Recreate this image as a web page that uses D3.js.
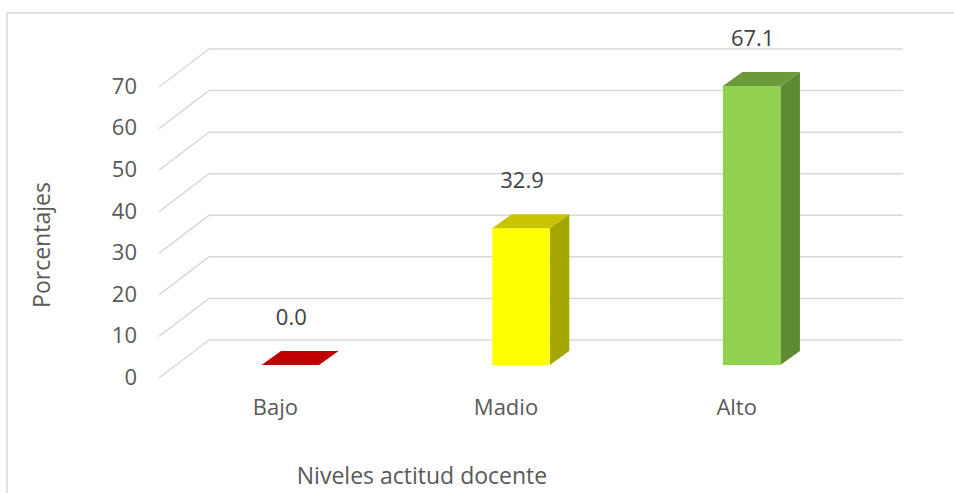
<!DOCTYPE html>
<html><head><meta charset="utf-8">
<script src="https://cdn.jsdelivr.net/npm/d3@7"></script>
<style>html,body{margin:0;padding:0;background:#fff;overflow:hidden}svg{display:block}</style>
</head><body>
<svg id="c" width="954" height="493"></svg>
<script>
const categories = ["Bajo", "Madio", "Alto"];
const values = [0.0, 32.9, 67.1];
const valueLabels = ["0.0", "32.9", "67.1"];
const tickValues = [0, 10, 20, 30, 40, 50, 60, 70];
const frontColors = ["#c00000", "#ffff00", "#92d050"];
const topColors = ["#c00000", "#c8c400", "#6b9a3a"];
const sideColors = ["#a00000", "#a6a600", "#5e8a32"];
const yTitle = "Porcentajes";
const xTitle = "Niveles actitud docente";

const svg = d3.select("#c");
const font = "'Open Sans', sans-serif";
const txt = "#595959";
const fs = 22;

svg.append("rect").attr("x", 7).attr("y", 13).attr("width", 1000).attr("height", 600)
  .attr("fill", "none").attr("stroke", "#d9d9d9").attr("stroke-width", 1.5);

const y = d3.scaleLinear().domain([0, 70]).range([340, 49]);
const wallLeft = 209, wallRight = 903, depthX = -50, depthY = 38;

const g = svg.append("g");
tickValues.forEach(t => {
  const yb = y(t);
  g.append("path")
    .attr("d", `M${wallLeft + depthX},${yb + depthY}L${wallLeft},${yb}L${wallRight},${yb}`)
    .attr("fill", "none").attr("stroke", "#d9d9d9").attr("stroke-width", 1.5);
  g.append("text").attr("x", 137).attr("y", yb + depthY + 1)
    .attr("text-anchor", "end").attr("dominant-baseline", "middle")
    .attr("font-family", font).attr("font-size", fs).attr("fill", txt).text(t);
});

const x = d3.scaleBand().domain(categories).range([175, 867]);
const barW = 57.5, bdx = 19.5, bdy = -14, frontBase = 25;
const fy = v => y(v) + frontBase;

categories.forEach((c, i) => {
  const v = values[i];
  const xl = x(c) + x.bandwidth() / 2 - barW / 2, xr = xl + barW;
  const yt = fy(v), yb = fy(0);
  g.append("path").attr("d", `M${xr},${yt}L${xr + bdx},${yt + bdy}L${xr + bdx},${yb + bdy}L${xr},${yb}Z`)
    .attr("fill", sideColors[i]);
  if (yb - yt > 0) g.append("rect").attr("x", xl).attr("y", yt).attr("width", barW).attr("height", yb - yt)
    .attr("fill", frontColors[i]);
  g.append("path").attr("d", `M${xl},${yt}L${xl + bdx},${yt + bdy}L${xr + bdx},${yt + bdy}L${xr},${yt}Z`)
    .attr("fill", topColors[i]);
  g.append("text").attr("x", x(c) + x.bandwidth() / 2 + 1).attr("y", yt - 46)
    .attr("text-anchor", "middle").attr("dominant-baseline", "middle")
    .attr("font-family", font).attr("font-size", fs).attr("fill", "#404040").text(valueLabels[i]);
  g.append("text").attr("x", x(c) + x.bandwidth() / 2 - 15).attr("y", 409)
    .attr("text-anchor", "middle").attr("dominant-baseline", "middle")
    .attr("font-family", font).attr("font-size", fs).attr("fill", txt).text(c);
});

svg.append("text").attr("transform", "translate(44,245) rotate(-90)")
  .attr("text-anchor", "middle").attr("dominant-baseline", "middle")
  .attr("font-family", font).attr("font-size", fs + 1).attr("fill", txt).text(yTitle);
svg.append("text").attr("x", 422).attr("y", 478)
  .attr("text-anchor", "middle").attr("dominant-baseline", "middle")
  .attr("font-family", font).attr("font-size", fs + 1).attr("fill", txt).text(xTitle);
</script>
</body></html>
